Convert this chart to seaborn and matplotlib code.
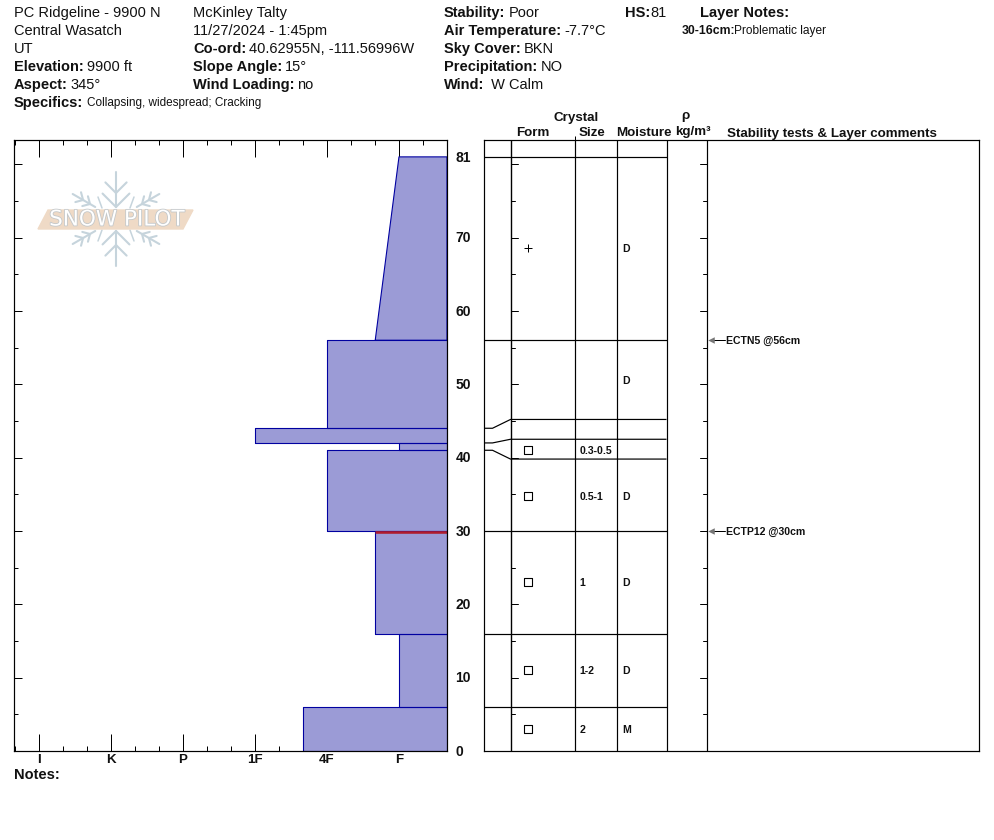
import numpy as np
import matplotlib
matplotlib.use("Agg")
import matplotlib.patheffects as pe
import matplotlib.pyplot as plt
import pandas as pd
import seaborn as sns
from matplotlib.ticker import FixedLocator

W, H = 994, 840

# hand hardness scale, F = 0 and one step per letter
hardness_names = ["I", "K", "P", "1F", "4F", "F"]
hardness_steps = [5, 4, 3, 2, 1, 0]
hardness_minor = [5.33, 4.67, 4.33, 3.67, 3.33, 2.67, 2.33, 1.67, 1.33, 0.67, 0.33, -0.33]

# layers as measured from the ground up (cm)
layer_bottom = [0, 6, 16, 30, 41, 42, 44, 56]
layer_top = [6, 16, 30, 41, 42, 44, 56, 81]
hardness_lower = [1.33, 0, 0.33, 1, 0, 2, 1, 0.33]
hardness_upper = [1.33, 0, 0.33, 1, 0, 2, 1, 0]

depth_labels = [0, 10, 20, 30, 40, 50, 60, 70, 81]
problem_layer_depth = 30

# grain table: lines on the left of the form column, and where they land on the right
line_depth_left = [6, 16, 30, 41, 42, 44, 56, 81]
line_depth_right = [6, 16, 30, 39.8, 42.5, 45.2, 56, 81]

form_depth = [68.6, 41, 34.8, 23, 11, 3]
form_kind = ["plus", "square", "square", "square", "square", "square"]
size_depth = [41, 34.8, 23, 11, 3]
size_text = ["0.3-0.5", "0.5-1", "1", "1-2", "2"]
moisture_depth = [68.6, 50.6, 34.8, 23, 11, 3]
moisture_text = ["D", "D", "D", "D", "D", "M"]

test_depth = [56, 30]
test_text = ["ECTN5 @56cm", "ECTP12 @30cm"]

# label, value, x, y on the page header
header_rows = [
    ("", "PC Ridgeline - 9900 N", 14, 13),
    ("", "Central Wasatch", 14, 31),
    ("", "UT", 14, 49),
    ("Elevation:", "9900 ft", 14, 67),
    ("Aspect:", "345°", 14, 85),
    ("", "McKinley Talty", 193, 13),
    ("", "11/27/2024 - 1:45pm", 193, 31),
    ("Co-ord:", "40.62955N, -111.56996W", 193, 49),
    ("Slope Angle:", "15°", 193, 67),
    ("Wind Loading:", "no", 193, 85),
    ("Stability:", "Poor", 444, 13),
    ("Air Temperature:", "-7.7°C", 444, 31),
    ("Sky Cover:", "BKN", 444, 49),
    ("Precipitation:", "NO", 444, 67),
    ("Wind:", " W Calm", 444, 85),
]

FILL = "#9b9bd6"
EDGE = "#0000a0"
INK = "#111111"
PX = 0.72  # one pixel in points at dpi 100


def add_axes_px(fig, left, top, right, bottom):
    return fig.add_axes([left / W, 1 - bottom / H, (right - left) / W, (bottom - top) / H])


def label_value(ax, renderer, label, value, x, y, size=10.5, value_size=None, gap=3):
    if label:
        t = ax.text(x, y, label, fontsize=size, fontweight="bold", color=INK, va="center")
        x = t.get_window_extent(renderer).x1 + gap
    ax.text(x, y, value, fontsize=value_size or size, color=INK, va="center")


def draw_logo(ax):
    c = np.array([116, 219])
    color = "#c6d4dc"

    def stroke(p, q, lw=1.5):
        ax.plot(*zip(p, q), color=color, lw=lw, zorder=1)

    for ang in range(30, 360, 60):
        vertical = ang in (90, 270)
        a = np.deg2rad(ang)
        start, end = (12, 47) if vertical else (24, 50)
        branches = ((26, 15), (12, 19)) if vertical else ((38, 8), (30, 8))
        d = np.array([np.cos(a), np.sin(a)])
        stroke(c + d * start, c + d * end)
        for r, b in branches:
            for s in (-1, 1):
                a2 = a + s * np.deg2rad(45)
                stroke(c + d * r, c + d * r + np.array([np.cos(a2), np.sin(a2)]) * b)
    for sx in (-1, 1):
        for sy in (-1, 1):
            stroke(c + np.array([sx * 14, sy * 11]), c + np.array([sx * 18, sy * 22]), lw=1.1)
    ax.fill([38, 48, 193, 183], [229, 210, 210, 229], color="#efdac6", zorder=2)
    ax.text(117, 219.5, "SNOW PILOT", fontsize=15.5, family="DejaVu Sans", color="white", ha="center", va="center",
            zorder=3, path_effects=[pe.withStroke(linewidth=1.2, foreground="#c4c8ca")])


def draw_profile(ax):
    for lo, hi, hl, hu in zip(layer_bottom, layer_top, hardness_lower, hardness_upper):
        right = ax.get_xlim()[1]
        xs = [hl, hu, right, right, hl]
        ys = [lo, hi, hi, lo, lo]
        ax.fill(xs, ys, color=FILL, lw=0, zorder=1)
        outline = pd.DataFrame({"hardness": xs, "depth": ys})
        sns.lineplot(data=outline, x="hardness", y="depth", sort=False, estimator=None, color=EDGE,
                     lw=1.1 * PX, ax=ax, zorder=2)
    # red band just under the 30 cm interface
    ax.plot([0.33, ax.get_xlim()[1]], [problem_layer_depth - 0.15] * 2, color="#b01c2e", lw=2.6 * PX, zorder=3,
            solid_capstyle="butt")


def style_depth_ticks(ax):
    ax.yaxis.set_major_locator(FixedLocator(np.arange(0, 81, 10)))
    ax.yaxis.set_minor_locator(FixedLocator(np.arange(5, 81, 10)))
    ax.tick_params(axis="y", which="major", direction="in", length=8 * PX, width=PX, left=True, right=True,
                   labelleft=False, color="black")
    ax.tick_params(axis="y", which="minor", direction="in", length=4 * PX, width=PX, left=True, right=True,
                   color="black")


def main():
    sns.set_theme(style="white")
    plt.rcParams["font.family"] = ["Liberation Sans", "DejaVu Sans"]
    plt.rcParams["axes.linewidth"] = 1.2 * PX

    fig = plt.figure(figsize=(W / 100, H / 100), dpi=100, facecolor="white")
    renderer = fig.canvas.get_renderer()

    # page layer in pixel coordinates, for the header block and the logo
    page = fig.add_axes([0, 0, 1, 1], zorder=0)
    page.set_xlim(0, W)
    page.set_ylim(H, 0)
    page.axis("off")

    for label, value, x, y in header_rows:
        label_value(page, renderer, label, value, x, y)
    label_value(page, renderer, "HS:", "81", 625, 13, gap=0)
    label_value(page, renderer, "Specifics:", "Collapsing, widespread; Cracking", 14, 103, value_size=8.5, gap=4)
    page.text(700, 13, "Layer Notes:", fontsize=10.5, fontweight="bold", color=INK, va="center")
    page.text(682, 31, "30-16cm:", fontsize=8.8, fontweight="bold", color=INK, va="center")
    page.text(733.5, 31, "Problematic layer", fontsize=8.6, color=INK, va="center")
    page.text(14, 775, "Notes:", fontsize=10.5, fontweight="bold", color=INK, va="center")

    head = dict(fontsize=9.6, fontweight="bold", color=INK, va="center")
    page.text(554, 118, "Crystal", **head)
    page.text(516, 133.5, "Form", **head)
    page.text(579, 133.5, "Size", **head)
    page.text(616, 133.5, "Moisture", **head)
    page.text(685, 116, "ρ", ha="center", **head)
    page.text(675, 131.5, "kg/m³", **head)
    page.text(727, 133.5, "Stability tests & Layer comments", **head)
    draw_logo(page)

    # hardness profile
    top_depth = 611 / 7.335
    ax = add_axes_px(fig, 14, 140, 447, 751)
    ax.patch.set_alpha(0)
    ax.set_xlim(5.347, -0.667)
    ax.set_ylim(0, top_depth)
    draw_profile(ax)
    ax.set_xlabel("")
    ax.set_ylabel("")
    ax.set_xticks(hardness_steps)
    ax.set_xticklabels(hardness_names, fontsize=9.6, fontweight="bold", color=INK)
    ax.xaxis.set_minor_locator(FixedLocator(hardness_minor))
    ax.tick_params(axis="x", which="major", direction="in", length=17 * PX, width=PX, top=True, bottom=True,
                   pad=2.5, color="black")
    ax.tick_params(axis="x", which="minor", direction="in", length=5 * PX, width=PX, top=True, bottom=True,
                   color="black")
    style_depth_ticks(ax)
    for spine in ax.spines.values():
        spine.set_zorder(5)
        spine.set_color("black")
    for d in depth_labels:
        ax.annotate(str(d), (1, d), xycoords=("axes fraction", "data"), xytext=(6, -0.5),
                    textcoords="offset points", fontsize=10, fontweight="bold", color=INK, ha="left", va="center")

    # grain table, x runs in page pixels so that the columns line up
    tb = add_axes_px(fig, 483.5, 140, 979, 751)
    tb.patch.set_alpha(0)
    tb.set_xlim(484, 979.5)
    tb.set_ylim(0, top_depth)
    for x in (511, 575, 617, 667):
        tb.axvline(x, color="black", lw=PX * 1.2, zorder=2)
    for left, right in zip(line_depth_left, line_depth_right):
        if left == right:
            tb.plot([484, 667], [left, right], color="black", lw=PX * 1.2, solid_capstyle="butt")
        else:
            tb.plot([484, 493, 511, 667], [left, left, right, right], color="black", lw=PX * 1.2,
                    solid_capstyle="butt")
    forms = pd.DataFrame({"depth": form_depth, "kind": form_kind, "x": 528})
    sns.scatterplot(data=forms[forms["kind"] == "square"], x="x", y="depth", marker="s", s=34, facecolor="white",
                    edgecolor="black", linewidth=1.1 * PX, ax=tb, zorder=4)
    sns.scatterplot(data=forms[forms["kind"] == "plus"], x="x", y="depth", marker="+", s=33, color="black",
                    linewidth=1.0 * PX, ax=tb, zorder=4)
    small = dict(fontsize=7.6, fontweight="bold", color=INK, va="center")
    for d, s in zip(size_depth, size_text):
        tb.text(580, d - 0.15, s, **small)
    for d, s in zip(moisture_depth, moisture_text):
        tb.text(623, d - 0.15, s, **small)
    tests = pd.DataFrame({"depth": test_depth, "x": 711})
    for d, s in zip(test_depth, test_text):
        tb.plot([712, 725], [d, d], color="black", lw=PX, zorder=3)
        tb.text(726, d - 0.15, s, **small)
    sns.scatterplot(data=tests, x="x", y="depth", marker="<", s=22, color="#777777", linewidth=0, ax=tb, zorder=4)
    tb.set_xlabel("")
    tb.set_ylabel("")
    tb.set_xticks([575])
    tb.tick_params(axis="x", which="major", direction="out", length=4 * PX, width=PX, top=True, bottom=False,
                   labelbottom=False, color="black")

    # depth ticks sit on two inner rulers of the table
    tb.yaxis.set_visible(False)
    for x, sign in ((511, 1), (707, -1)):
        tb.axvline(x, color="black", lw=PX * 1.2, zorder=2)
        for d in np.arange(10, 81, 10):
            tb.plot([x, x + sign * 7], [d, d], color="black", lw=PX, zorder=2)
        for d in np.arange(5, 81, 10):
            tb.plot([x, x + sign * 4], [d, d], color="black", lw=PX, zorder=2)
    for spine in tb.spines.values():
        spine.set_color("black")
    tb.set_xlim(484, 979.5)
    tb.set_ylim(0, top_depth)

    fig.savefig("out.png", dpi=100)
    plt.close(fig)


if __name__ == "__main__":
    main()
